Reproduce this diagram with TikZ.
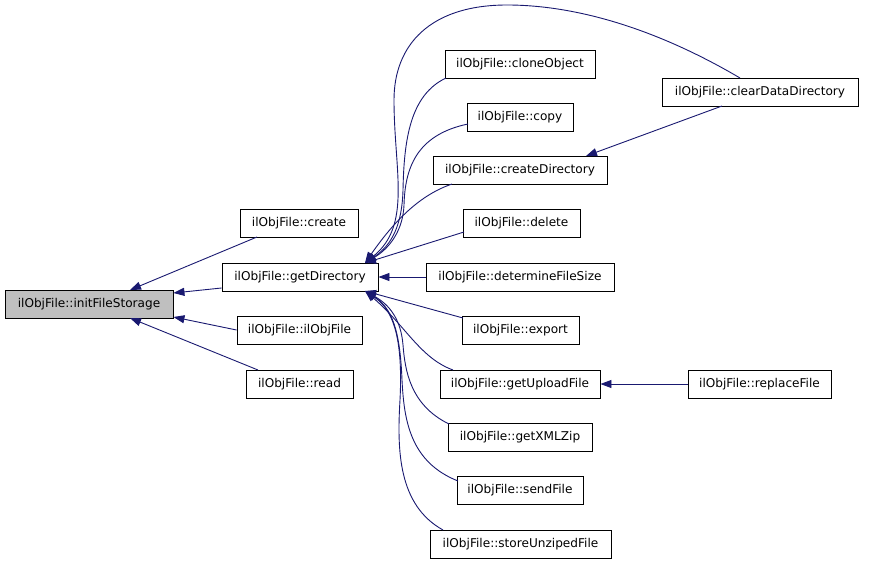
\documentclass[tikz,border=0pt]{standalone}
\usepackage{fontspec}
\setmainfont{DejaVu Sans}
\usetikzlibrary{arrows.meta}
\definecolor{edgeblue}{RGB}{25,25,112}
\definecolor{boxgray}{RGB}{191,191,191}
\begin{document}
\begin{tikzpicture}[x=1pt,y=-1pt,
  box/.style={draw=black, line width=0.9pt, fill=white, inner sep=0pt, minimum height=28pt, font=\fontsize{12.1}{14}\selectfont},
  edge/.style={draw=edgeblue, line width=0.9pt, -{Triangle[length=11pt,width=8pt]}}]
\useasboundingbox (0,0) rectangle (869,564);
% nodes
\node[box, fill=boxgray, minimum width=168pt] (ifs) at (89,304) {ilObjFile::initFileStorage};
\node[box, minimum width=118pt] (cr) at (299,223.5) {ilObjFile::create};
\node[box, minimum width=156pt] (gd) at (300,277) {ilObjFile::getDirectory};
\node[box, minimum width=125pt] (io) at (299.5,330) {ilObjFile::ilObjFile};
\node[box, minimum width=107pt] (rd) at (299.5,384) {ilObjFile::read};
\node[box, minimum width=150pt] (co) at (520,64) {ilObjFile::cloneObject};
\node[box, minimum width=106pt] (cp) at (520,117) {ilObjFile::copy};
\node[box, minimum width=174pt] (cd) at (520,170) {ilObjFile::createDirectory};
\node[box, minimum width=117pt] (de) at (521.5,223.5) {ilObjFile::delete};
\node[box, minimum width=188pt] (dfs) at (520,277) {ilObjFile::determineFileSize};
\node[box, minimum width=117pt] (ex) at (520.5,330) {ilObjFile::export};
\node[box, minimum width=160pt] (gu) at (520,384) {ilObjFile::getUploadFile};
\node[box, minimum width=144pt] (gx) at (520,437) {ilObjFile::getXMLZip};
\node[box, minimum width=126pt] (sf) at (520,490) {ilObjFile::sendFile};
\node[box, minimum width=181pt] (su) at (520.5,544) {ilObjFile::storeUnzipedFile};
\node[box, minimum width=196pt] (cdd) at (760,92) {ilObjFile::clearDataDirectory};
\node[box, minimum width=143pt] (rf) at (759.5,384) {ilObjFile::replaceFile};
% helper coordinates
\coordinate (ifsT) at (130,290);
\coordinate (ifsB) at (130,318);
\coordinate (gdT) at (365,263);
\coordinate (gdB) at (365,291);
\coordinate (crB) at (257,237);
\coordinate (rdT) at (258,370);
\coordinate (cddT) at (740,78);
\coordinate (cddB) at (722,106);
\coordinate (cdT) at (586,156);
\coordinate (coL) at (446,78);
\coordinate (cpL) at (468,124);
\coordinate (cdL) at (452,184);
\coordinate (deL) at (464,232);
\coordinate (exL) at (463,318);
\coordinate (guL) at (453,370);
\coordinate (gxL) at (449,424);
\coordinate (sfL) at (458,481);
\coordinate (suL) at (443,530);
% edges to initFileStorage
\draw[edge] (crB) -- (ifsT);
\draw[edge] (gd.west |- 0,288) -- (ifs.east |- 0,293);
\draw[edge] (io.west |- 0,330) -- (ifs.east |- 0,317);
\draw[edge] (rdT) -- (ifsB);
% edges to getDirectory (upper)
\draw[edge] (cddT) .. controls (650,25) and (570,5) .. (507,5) .. controls (430,5) and (394,45) .. (394,100) .. controls (394,170) and (412,225) .. (gdT);
\draw[edge] (coL) .. controls (410,95) and (404,140) .. (403,190) .. controls (402,225) and (392,245) .. (gdT);
\draw[edge] (cpL) .. controls (415,135) and (405,170) .. (404,205) .. controls (403,230) and (390,248) .. (gdT);
\draw[edge] (cdL) .. controls (420,195) and (395,220) .. (gdT);
\draw[edge] (deL) -- (gdT);
\draw[edge] (dfs.west) -- (gd.east);
% edges to getDirectory (lower)
\draw[edge] (exL) -- (gdB);
\draw[edge] (guL) .. controls (420,358) and (405,325) .. (gdB);
\draw[edge] (gxL) .. controls (410,405) and (405,370) .. (403,345) .. controls (401,320) and (390,305) .. (gdB);
\draw[edge] (sfL) .. controls (410,462) and (404,420) .. (402,380) .. controls (400,330) and (392,308) .. (gdB);
\draw[edge] (suL) .. controls (398,505) and (397,450) .. (400,400) .. controls (403,340) and (394,310) .. (gdB);
% others
\draw[edge] (cddB) -- (cdT);
\draw[edge] (rf.west) -- (gu.east);
\end{tikzpicture}
\end{document}
